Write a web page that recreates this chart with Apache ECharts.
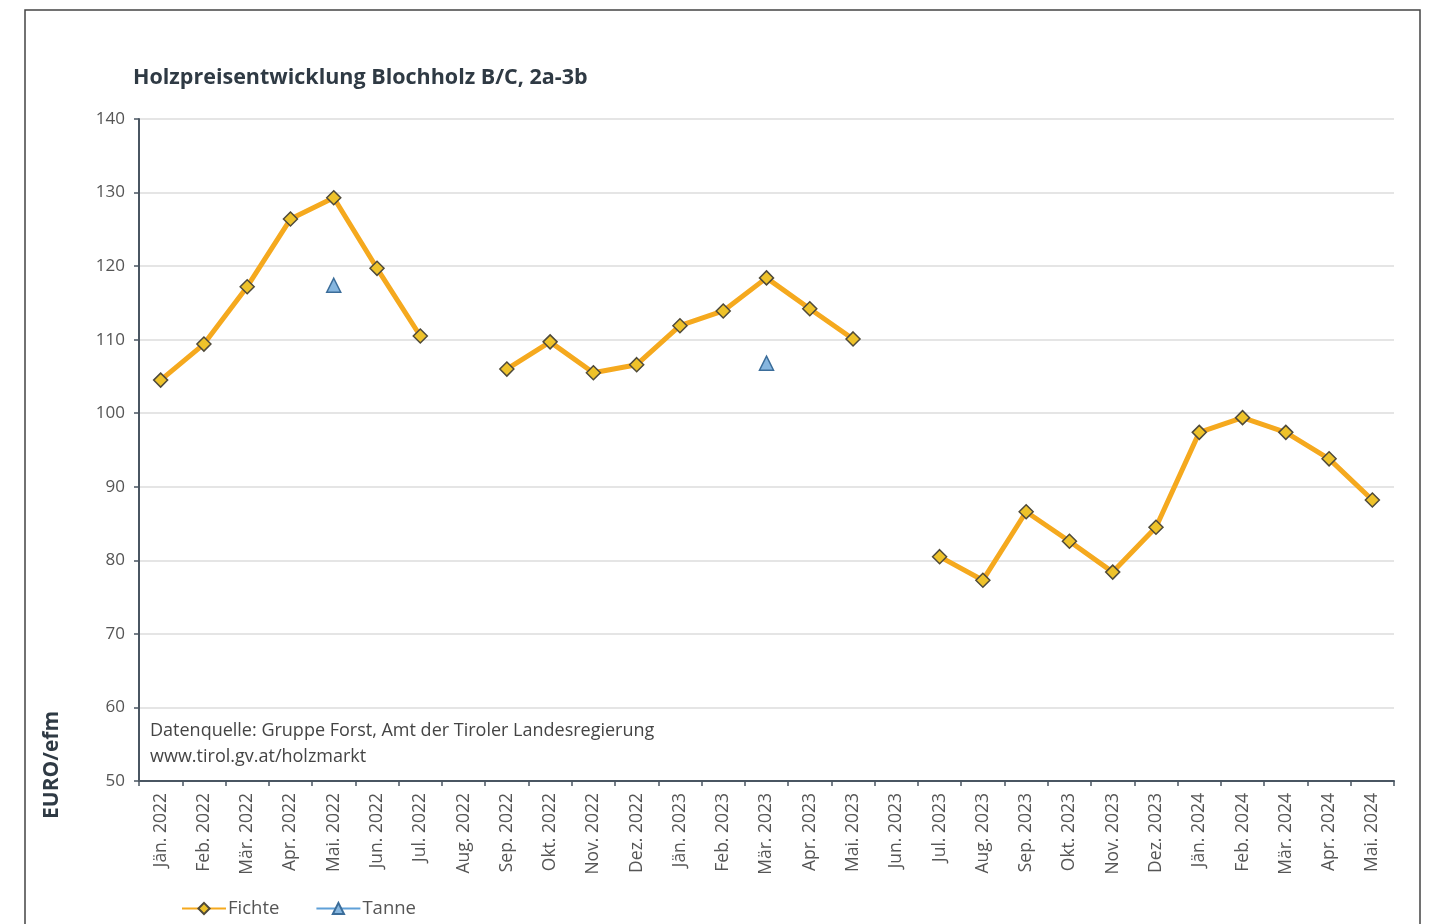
<!DOCTYPE html>
<html><head><meta charset="utf-8">
<script src="https://cdn.jsdelivr.net/npm/echarts@6/dist/echarts.min.js"></script>
<style>html,body{margin:0;padding:0;background:#fff}#c{width:1430px;height:924px}</style>
</head><body><div id="c"></div>
<script>
const categories = ["Jän. 2022","Feb. 2022","Mär. 2022","Apr. 2022","Mai. 2022","Jun. 2022","Jul. 2022","Aug. 2022","Sep. 2022","Okt. 2022","Nov. 2022","Dez. 2022","Jän. 2023","Feb. 2023","Mär. 2023","Apr. 2023","Mai. 2023","Jun. 2023","Jul. 2023","Aug. 2023","Sep. 2023","Okt. 2023","Nov. 2023","Dez. 2023","Jän. 2024","Feb. 2024","Mär. 2024","Apr. 2024","Mai. 2024"];
const fichte = [104.5,109.4,117.2,126.4,129.3,119.7,110.5,null,106.0,109.7,105.5,106.6,111.9,113.9,118.4,114.2,110.1,null,80.5,77.3,86.6,82.6,78.4,84.5,97.4,99.4,97.4,93.8,88.2];
const tanne = [null,null,null,null,117.4,null,null,null,null,null,null,null,null,null,106.8,null,null,null,null,null,null,null,null,null,null,null,null,null,null];
const yMin = 50, yMax = 140, yStep = 10;
const titleText = "Holzpreisentwicklung Blochholz B/C, 2a-3b";
const yName = "EURO/efm";
const sourceLines = ["Datenquelle: Gruppe Forst, Amt der Tiroler Landesregierung","www.tirol.gv.at/holzmarkt"];

const font = "'Open Sans', 'Noto Sans', sans-serif";
const chart = echarts.init(document.getElementById('c'), null, {renderer:'canvas'});
chart.setOption({
  animation:false,
  backgroundColor:'#fff',
  title:{text:titleText,left:128,top:62,textStyle:{fontFamily:font,fontSize:21.5,fontWeight:'bold',color:'#2f3a44'}},
  grid:{left:139,right:36,top:119,bottom:143,containLabel:false},
  legend:{left:176,top:894,itemGap:36,itemWidth:44,itemHeight:14,
    textStyle:{fontFamily:font,fontSize:18.5,color:'#555',padding:[0,0,0,-3]},
    data:['Fichte','Tanne']},
  graphic:[
    {type:'rect',shape:{x:25,y:10,width:1395,height:930},style:{fill:null,stroke:'#444',lineWidth:1.5},silent:true,z:-1},
    {type:'text',x:42,y:819,rotation:Math.PI/2,style:{text:yName,fontFamily:font,fontSize:21,fontWeight:'bold',fill:'#2f3a44',textVerticalAlign:'top'}},
    {type:'text',left:150,top:718,style:{text:sourceLines.join('\n'),fontFamily:font,fontSize:18,lineHeight:26,fill:'#444'}}
  ],
  xAxis:{type:'category',data:categories,boundaryGap:true,
    axisLine:{show:true,lineStyle:{color:'#4a5662',width:2}},
    axisTick:{show:true,interval:0,length:5,lineStyle:{color:'#4a5662',width:1.5}},
    axisLabel:{interval:0,rotate:90,margin:12,fontFamily:font,fontSize:17.5,color:'#555'},
    splitLine:{show:false}},
  yAxis:{type:'value',min:yMin,max:yMax,interval:yStep,
    axisLine:{show:true,lineStyle:{color:'#4a5662',width:2}},
    axisTick:{show:true,length:5,lineStyle:{color:'#4a5662',width:1.5}},
    axisLabel:{margin:14,fontFamily:font,fontSize:17,color:'#555'},
    splitLine:{show:true,lineStyle:{color:'#dcdcdc',width:1.5}}},
  series:[
    {name:'Fichte',type:'line',data:fichte,connectNulls:false,showSymbol:true,showAllSymbol:true,
      symbol:'diamond',symbolSize:14,
      lineStyle:{color:'#f5a91e',width:5},
      itemStyle:{color:'#eec22a',borderColor:'#4f4a3a',borderWidth:1.5}},
    {name:'Tanne',type:'line',data:tanne,connectNulls:false,showSymbol:true,showAllSymbol:true,
      symbol:'triangle',symbolSize:14,
      lineStyle:{color:'#5fa0d8',width:3},
      itemStyle:{color:'#86b6df',borderColor:'#3b6d9a',borderWidth:1.5}}
  ]
});
</script></body></html>
